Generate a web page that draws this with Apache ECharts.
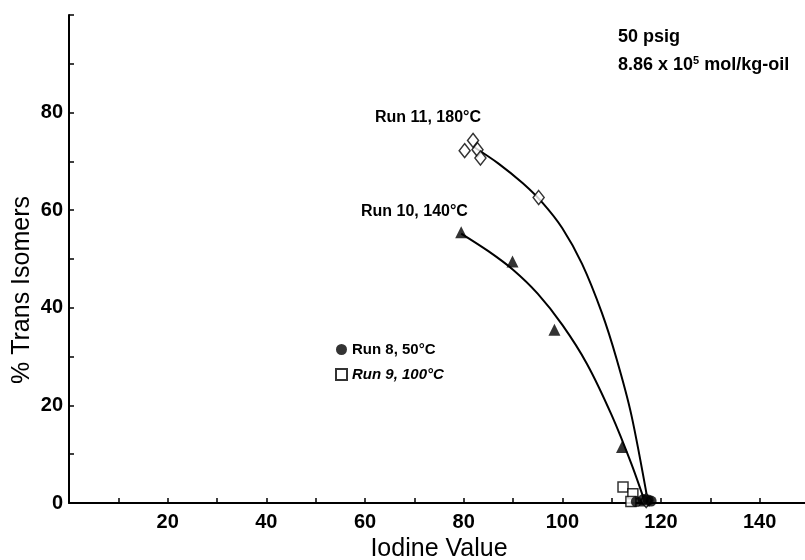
<!DOCTYPE html>
<html>
<head>
<meta charset="utf-8">
<script src="https://cdn.jsdelivr.net/npm/echarts@6/dist/echarts.min.js"></script>
<style>
html, body { margin: 0; padding: 0; background: #fff; }
#chart { width: 805px; height: 560px; }
</style>
</head>
<body>
<div id="chart"></div>
<script>
// iodine value vs % trans
var run8 = [[115.0, 0.3], [116.4, 0.7], [117.4, 0.6], [118.0, 0.4]];
var run9 = [[112.3, 3.3], [114.3, 1.9], [113.9, 0.3]];
var run10 = [[79.5, 55.5], [89.9, 49.5], [98.4, 35.5], [112.1, 11.5], [116.6, 0.5]];
var run11 = [[80.2, 72.2], [81.9, 74.3], [82.8, 72.4], [83.4, 70.7], [95.2, 62.6], [117.0, 0.5]];

// fitted curves drawn by hand in the original, traced point by point
var curve10 = [[79.5, 55.2], [85, 51.6], [90, 47.8], [95, 42.9], [100, 36.5],
	[105, 28.5], [110, 18.0], [114, 8.0], [116.8, 0]];
var curve11 = [[82, 73.0], [87, 69.6], [92, 65.5], [96, 61.5], [100, 56.3],
	[104, 49.0], [108, 39.0], [111, 29.5], [114, 18.0], [117.4, 0]];

var xLabels = [20, 40, 60, 80, 100, 120, 140];
var yLabels = [0, 20, 40, 60, 80];

var font = '"Liberation Sans", Arial, sans-serif';
var chart = echarts.init(document.getElementById('chart'));

var axisCommon = {
	type: 'value',
	interval: 10,
	axisLine: { show: true, lineStyle: { color: '#000', width: 2 } },
	axisTick: { show: true, inside: true, length: 5, lineStyle: { color: '#000', width: 1.5 } },
	splitLine: { show: false },
	nameTextStyle: { color: '#000', fontFamily: font, fontSize: 25 }
};

chart.setOption({
	animation: false,
	backgroundColor: '#fff',
	grid: { left: 69, top: 15, width: 740, height: 488, outerBoundsMode: 'none', containLabel: false },
	xAxis: Object.assign({}, axisCommon, {
		min: 0, max: 150,
		name: 'Iodine Value', nameLocation: 'middle', nameGap: 34,
		axisLabel: {
			color: '#000', fontFamily: font, fontSize: 20, fontWeight: 'bold', margin: 9,
			formatter: function(v) { return xLabels.indexOf(v) >= 0 ? String(v) : ''; }
		}
	}),
	yAxis: Object.assign({}, axisCommon, {
		min: 0, max: 100,
		axisLabel: {
			color: '#000', fontFamily: font, fontSize: 20, fontWeight: 'bold', margin: 6,
			formatter: function(v) { return yLabels.indexOf(v) >= 0 ? String(v) : ''; }
		}
	}),
	legend: {
		orient: 'vertical', left: 330, top: 337, itemGap: 10,
		itemWidth: 11, itemHeight: 11,
		textStyle: { color: '#000', fontFamily: font, fontSize: 15, fontWeight: 'bold' },
		data: [
			{ name: 'Run 8, 50°C', icon: 'circle' },
			{ name: 'Run 9, 100°C', icon: 'rect', textStyle: { fontStyle: 'italic' } }
		]
	},
	graphic: [
		{ type: 'text', x: 22, y: 290, rotation: Math.PI / 2, style: {
			text: '% Trans Isomers', fill: '#000', font: '25px ' + font,
			textAlign: 'center', textVerticalAlign: 'middle'
		} },
		{ type: 'text', left: 375, top: 110, style: { text: 'Run 11, 180°C', fill: '#000', font: 'bold 16px ' + font } },
		{ type: 'text', left: 361, top: 204, style: { text: 'Run 10, 140°C', fill: '#000', font: 'bold 16px ' + font } },
		{ type: 'text', left: 618, top: 28, style: { text: '50 psig', fill: '#000', font: 'bold 18px ' + font } },
		{ type: 'text', left: 618, top: 55, style: {
			text: '8.86 x 10{s|5} mol/kg-oil', fill: '#000', font: 'bold 18px ' + font,
			rich: { s: { fontSize: 11, fontWeight: 'bold', fontFamily: font, verticalAlign: 'top', padding: [0, 0, 9, 0] } }
		} }
	],
	series: [
		{ type: 'line', data: curve10, smooth: 0.3, showSymbol: false, silent: true,
			lineStyle: { color: '#000', width: 2 }, z: 2 },
		{ type: 'line', data: curve11, smooth: 0.3, showSymbol: false, silent: true,
			lineStyle: { color: '#000', width: 2 }, z: 2 },
		{ name: 'Run 8, 50°C', type: 'scatter', data: run8, symbol: 'circle', symbolSize: 11,
			itemStyle: { color: '#000' }, z: 4 },
		{ name: 'Run 9, 100°C', type: 'scatter', data: run9, symbol: 'rect', symbolSize: 10,
			itemStyle: { color: '#fff', borderColor: '#000', borderWidth: 1.5 }, z: 3 },
		{ name: 'Run 10, 140°C', type: 'scatter', data: run10, symbol: 'triangle', symbolSize: 12,
			itemStyle: { color: '#000' }, z: 3 },
		{ name: 'Run 11, 180°C', type: 'scatter', data: run11, symbol: 'diamond', symbolSize: [11, 14],
			itemStyle: { color: '#fff', borderColor: '#000', borderWidth: 1.5 }, z: 3 }
	]
});
</script>
</body>
</html>
